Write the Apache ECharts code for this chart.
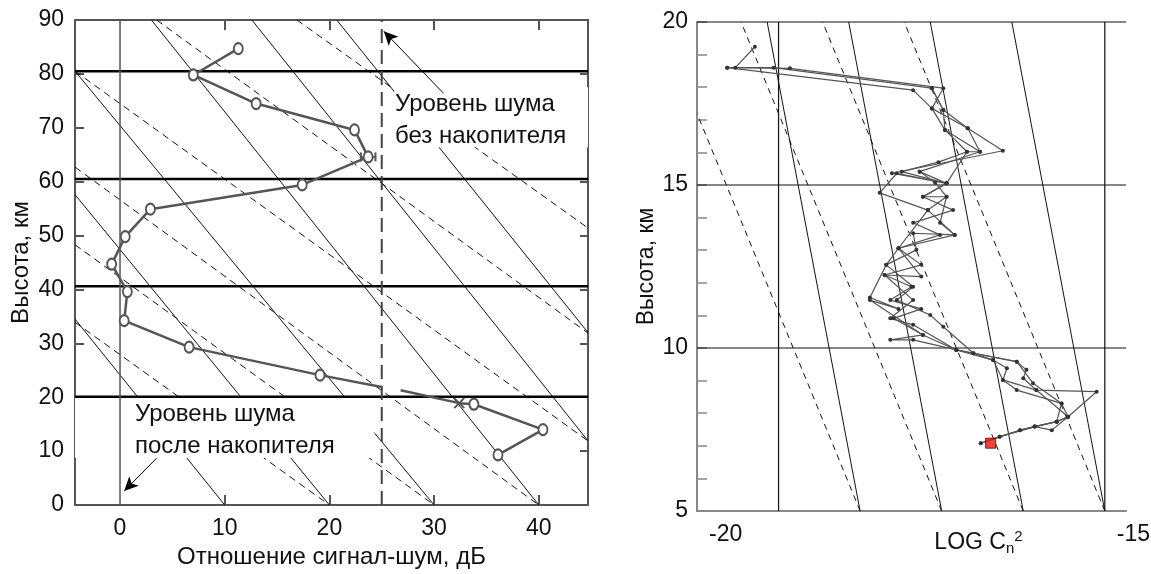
<!DOCTYPE html>
<html>
<head>
<meta charset="utf-8">
<script src="https://cdn.jsdelivr.net/npm/echarts@6/dist/echarts.min.js"></script>
<style>
  html, body { margin: 0; padding: 0; background: #fff; }
  #chart { width: 1151px; height: 574px; }
</style>
</head>
<body>
<div id="chart"></div>
<script>
// ---- левый график: отношение сигнал-шум ----
const snrLabels = [0, 10, 20, 30, 40];
const snrTicks = [10, 20, 30, 40];
const hLevels = [20.1, 40.6, 60.5, 80.5];
// профиль сигнал-шум (дБ, км); третье значение: 1 - кружок, 0 - без маркера
const snrUpper = [[11.3, 84.7, 1], [7.0, 79.8, 1], [13.0, 74.5, 1], [22.4, 69.6, 1], [23.7, 64.6, 1], [17.4, 59.4, 1],
  [2.9, 54.9, 1], [0.5, 49.8, 1], [-0.8, 44.7, 1], [0.7, 39.6, 1], [0.4, 34.2, 1], [6.6, 29.3, 1], [19.1, 24.1, 1], [25.0, 21.9, 0]];
const snrLower = [[26.8, 21.3, 0], [32.4, 18.9, 0], [33.8, 18.7, 1], [40.4, 14.0, 1], [36.1, 9.3, 1]];
const snrCross = [[32.4, 18.9]];
const errBar = [[23.0, 64.6], [24.4, 64.6]];
// наклонные линии: x1, y1, x2, y2
const solidSegs = [[-4.3, 34.5, 10, 0], [-4.3, 57.6, 20, 0], [-4.3, 80.5, 30, 0], [3.0, 90, 40, 0],
  [12.6, 90, 44.7, 11.9], [20.7, 90, 44.7, 32.0]];
const dashedSegs = [[-4.3, 33.9, 20, 0], [-4.3, 48.3, 30, 0], [-4.3, 62.7, 40, 0], [-4.3, 80.5, 44.7, 11.9],
  [3.5, 90, 44.7, 31.9], [16.9, 90, 44.7, 51.4]];
const maskBoxes = [[-4.3, 20.1, 24.3, 8.7], [26.2, 77.5, 44.7, 66.4]];
const noiseNoAcc = 25;

// ---- правый график: LOG Cn2 ----
const cnTrace1 = [[-16.52, 7.08], [-16.04, 7.48], [-15.59, 7.74], [-15.45, 7.89], [-15.53, 8.3], [-15.88, 8.92],
  [-16.08, 9.58], [-16.61, 9.84], [-16.82, 9.94], [-17.23, 10.4], [-17.59, 10.91], [-17.25, 11.2], [-17.63, 11.47],
  [-17.37, 11.88], [-17.70, 12.24], [-17.25, 12.55], [-17.53, 13.06], [-17.02, 13.47], [-17.35, 13.84], [-16.86, 14.23],
  [-17.23, 14.64], [-16.94, 15.05], [-17.49, 15.41], [-17.04, 15.7], [-16.69, 16.02], [-16.96, 16.69], [-17.12, 17.35],
  [-16.98, 17.97], [-18.86, 18.58], [-19.53, 18.6], [-19.29, 19.24]];
const cnTrace2 = [[-16.52, 7.08], [-16.29, 7.28], [-15.86, 7.59], [-15.65, 7.48], [-15.45, 7.89], [-15.1, 8.66],
  [-15.84, 8.71], [-16.25, 9.02], [-16.2, 9.38], [-16.37, 9.63], [-16.61, 9.84], [-16.98, 10.65], [-17.14, 11.01],
  [-17.55, 11.47], [-17.35, 11.88], [-17.68, 12.55], [-17.31, 13.01], [-17.35, 13.52], [-16.84, 13.47], [-17.17, 14.23],
  [-16.94, 14.64], [-17.08, 15.07], [-17.27, 15.41], [-16.53, 16.02], [-16.68, 16.74], [-16.98, 17.3], [-17.12, 17.97],
  [-19.06, 18.6], [-19.63, 18.6]];
const cnTrace3 = [[-16.29, 7.28], [-15.86, 7.59], [-15.59, 7.74], [-15.45, 7.89], [-15.84, 8.71], [-16.0, 9.07],
  [-15.96, 9.33], [-16.08, 9.58], [-16.82, 9.94], [-17.35, 10.25], [-17.63, 10.25], [-17.23, 10.4], [-17.88, 11.47],
  [-17.53, 11.2], [-17.88, 11.55], [-17.68, 12.55], [-17.53, 13.06], [-17.17, 14.23], [-17.76, 14.76], [-17.55, 15.36],
  [-16.94, 15.05], [-17.61, 15.36], [-16.25, 16.05], [-16.68, 16.74], [-17.12, 17.35], [-17.35, 17.91], [-19.63, 18.6]];
const cnTrace4 = [[-16.04, 7.48], [-15.86, 7.59], [-15.59, 7.74], [-15.53, 8.3], [-16.08, 8.71], [-16.25, 9.02],
  [-16.37, 9.63], [-16.82, 9.94], [-17.35, 10.71], [-17.63, 10.91], [-17.35, 11.47], [-17.70, 12.24], [-17.25, 12.19],
  [-17.53, 13.06], [-16.84, 13.47], [-17.02, 13.84], [-16.94, 14.64], [-17.23, 14.64], [-16.94, 15.05], [-17.27, 15.41],
  [-16.94, 15.05], [-16.69, 16.02], [-16.53, 16.02], [-16.96, 16.69], [-16.98, 17.3], [-17.12, 17.97]];
const cnMarker = [[-16.4, 7.08]];
const cnLevels = [10, 15, 20];
const cnVertical = [-19, -15];
const cnSolidSegs = [[-18, 5, -19.14, 20], [-17, 5, -18.14, 20], [-16, 5, -17.14, 20], [-15, 5, -16.14, 20]];
const cnDashedSegs = [[-18, 5, -20.46, 20], [-17, 5, -19.46, 20], [-16, 5, -18.46, 20], [-15, 5, -17.46, 20]];

const FONT = 'Liberation Sans, Arial, sans-serif';

const chart = echarts.init(document.getElementById('chart'));

function segRender(style) {
  return function (params, api) {
    const p1 = api.coord([api.value(0), api.value(1)]);
    const p2 = api.coord([api.value(2), api.value(3)]);
    return {
      type: 'line',
      shape: { x1: p1[0], y1: p1[1], x2: p2[0], y2: p2[1] },
      style: Object.assign({ fill: null }, style)
    };
  };
}

function boxRender(params, api) {
  const p1 = api.coord([api.value(0), api.value(1)]);
  const p2 = api.coord([api.value(2), api.value(3)]);
  return {
    type: 'rect',
    shape: { x: p1[0], y: p1[1], width: p2[0] - p1[0], height: p2[1] - p1[1] },
    style: { fill: '#fff' }
  };
}

// маленький косой крестик на линии профиля
function crossRender(params, api) {
  const p = api.coord([api.value(0), api.value(1)]);
  const s = 5;
  return {
    type: 'group',
    children: [
      { type: 'line', shape: { x1: p[0] - s, y1: p[1] - s, x2: p[0] + s, y2: p[1] + s }, style: { stroke: '#555', lineWidth: 2 } },
      { type: 'line', shape: { x1: p[0] - s, y1: p[1] + s, x2: p[0] + s, y2: p[1] - s }, style: { stroke: '#555', lineWidth: 2 } }
    ]
  };
}

function snrPoints(arr) {
  return arr.map(p => ({ value: [p[0], p[1]], symbol: p[2] ? 'emptyCircle' : 'none' }));
}

const leftMin = -4.3, leftMax = 44.7;
const hLineSegs = hLevels.map(v => [leftMin, v, leftMax, v]);
const cnHSegs = cnLevels.map(v => [-20, v, -14.74, v]);
const cnVSegs = cnVertical.map(v => [v, 5, v, 20]);

const snrLine = {
  type: 'line', xAxisIndex: 0, yAxisIndex: 0, z: 5,
  lineStyle: { color: '#555', width: 2.5 },
  symbol: 'emptyCircle', symbolSize: [9, 11],
  itemStyle: { color: '#555', borderColor: '#555', borderWidth: 2 }
};

const option = {
  animation: false,
  grid: [
    { left: 75, top: 20, width: 513, height: 485, outerBoundsMode: 'none', containLabel: false },
    { left: 697, top: 22, width: 429, height: 489, outerBoundsMode: 'none', containLabel: false }
  ],
  xAxis: [
    {
      gridIndex: 0, type: 'value', min: leftMin, max: leftMax,
      name: 'Отношение сигнал-шум, дБ', nameLocation: 'middle', nameGap: 39,
      nameTextStyle: { fontSize: 24, fontFamily: FONT, color: '#111' },
      axisLine: { onZero: false, lineStyle: { color: '#555', width: 2 } },
      axisTick: { inside: true, length: 10, customValues: snrTicks, lineStyle: { color: '#555', width: 2 } },
      axisLabel: { customValues: snrLabels, fontSize: 23, fontFamily: FONT, color: '#111', margin: 12 },
      splitLine: { show: false }
    },
    {
      gridIndex: 0, type: 'value', min: leftMin, max: leftMax, position: 'top',
      axisLine: { onZero: false, lineStyle: { color: '#555', width: 2 } },
      axisTick: { inside: true, length: 10, customValues: snrTicks, lineStyle: { color: '#555', width: 2 } },
      axisLabel: { show: false },
      splitLine: { show: false }
    },
    {
      gridIndex: 1, type: 'value', min: -20, max: -14.74,
      name: '{a|LOG C}{s|n}{p|2}', nameLocation: 'middle', nameGap: 18, nameMoveOverlap: false,
      nameTextStyle: {
        padding: [0, 0, 0, 134],
        rich: {
          a: { fontSize: 23, fontFamily: FONT, color: '#111' },
          s: { fontSize: 15, fontFamily: FONT, color: '#111', padding: [12, 0, 0, 0] },
          p: { fontSize: 15, fontFamily: FONT, color: '#111', padding: [0, 0, 12, 0] }
        }
      },
      axisLine: { onZero: false, lineStyle: { color: '#888', width: 2 } },
      axisTick: { show: false },
      axisLabel: { customValues: [-20, -15], align: 'left', padding: [0, 0, 0, 12], fontSize: 23, fontFamily: FONT, color: '#111', margin: 12 },
      splitLine: { show: false }
    }
  ],
  yAxis: [
    {
      gridIndex: 0, type: 'value', min: 0, max: 90, interval: 10,
      name: 'Высота, км', nameLocation: 'middle', nameGap: 42,
      nameTextStyle: { fontSize: 24, fontFamily: FONT, color: '#111' },
      axisLine: { onZero: false, lineStyle: { color: '#555', width: 2 } },
      axisTick: { inside: true, length: 9, lineStyle: { color: '#555', width: 2 } },
      axisLabel: { fontSize: 23, fontFamily: FONT, color: '#111', margin: 11 },
      splitLine: { show: false }
    },
    {
      gridIndex: 0, type: 'value', min: 0, max: 90, interval: 10, position: 'right',
      axisLine: { onZero: false, lineStyle: { color: '#555', width: 2 } },
      axisTick: { inside: true, length: 8, lineStyle: { color: '#555', width: 2 } },
      axisLabel: { show: false },
      splitLine: { show: false }
    },
    {
      gridIndex: 1, type: 'value', min: 5, max: 20, interval: 1,
      name: 'Высота, км', nameLocation: 'middle', nameGap: 32,
      nameTextStyle: { fontSize: 23, fontFamily: FONT, color: '#111' },
      axisLine: { onZero: false, lineStyle: { color: '#888', width: 2 } },
      axisTick: { inside: true, length: 10, lineStyle: { color: '#888', width: 1.5 } },
      axisLabel: {
        fontSize: 23, fontFamily: FONT, color: '#111', margin: 9,
        formatter: v => (v % 5 === 0 ? String(v) : '')
      },
      splitLine: { show: false }
    }
  ],
  series: [
    // --- левый график ---
    {
      type: 'custom', xAxisIndex: 0, yAxisIndex: 0, clip: true, z: 1, silent: true,
      renderItem: segRender({ stroke: '#111', lineWidth: 1 }), data: solidSegs
    },
    {
      type: 'custom', xAxisIndex: 0, yAxisIndex: 0, clip: true, z: 1, silent: true,
      renderItem: segRender({ stroke: '#111', lineWidth: 1, lineDash: [7, 5] }), data: dashedSegs
    },
    {
      type: 'custom', xAxisIndex: 0, yAxisIndex: 0, clip: true, z: 2, silent: true,
      renderItem: boxRender, data: maskBoxes
    },
    {
      type: 'custom', xAxisIndex: 0, yAxisIndex: 0, clip: true, z: 3, silent: true,
      renderItem: segRender({ stroke: '#000', lineWidth: 2.5 }), data: hLineSegs
    },
    {
      type: 'custom', xAxisIndex: 0, yAxisIndex: 0, clip: true, z: 3, silent: true,
      renderItem: segRender({ stroke: '#555', lineWidth: 1.5 }), data: [[0, 0, 0, 90]]
    },
    {
      type: 'custom', xAxisIndex: 0, yAxisIndex: 0, clip: true, z: 3, silent: true,
      renderItem: segRender({ stroke: '#444', lineWidth: 2, lineDash: [14, 7] }),
      data: [[noiseNoAcc, 0, noiseNoAcc, 90]]
    },
    Object.assign({}, snrLine, {
      data: snrPoints(snrUpper),
      markLine: {
        silent: true, symbol: ['none', 'arrow'], symbolSize: [10, 14], label: { show: false },
        lineStyle: { color: '#000', width: 1, type: 'solid' },
        data: [
          [{ coord: [30.9, 76.4] }, { coord: [25.2, 87.9] }],
          [{ coord: [3.5, 8.7] }, { coord: [0.4, 2.6] }]
        ]
      }
    }),
    Object.assign({}, snrLine, { data: snrPoints(snrLower) }),
    {
      type: 'custom', xAxisIndex: 0, yAxisIndex: 0, z: 6, silent: true,
      renderItem: crossRender, data: snrCross
    },
    {
      type: 'line', xAxisIndex: 0, yAxisIndex: 0, z: 5, data: errBar,
      lineStyle: { color: '#555', width: 2 },
      symbol: 'rect', symbolSize: [2, 9], itemStyle: { color: '#555' }
    },
    // --- правый график ---
    {
      type: 'custom', xAxisIndex: 2, yAxisIndex: 2, clip: true, z: 1, silent: true,
      renderItem: segRender({ stroke: '#111', lineWidth: 1 }), data: cnSolidSegs
    },
    {
      type: 'custom', xAxisIndex: 2, yAxisIndex: 2, clip: true, z: 1, silent: true,
      renderItem: segRender({ stroke: '#111', lineWidth: 1, lineDash: [6, 5] }), data: cnDashedSegs
    },
    {
      type: 'custom', xAxisIndex: 2, yAxisIndex: 2, clip: false, z: 2, silent: true,
      renderItem: segRender({ stroke: '#111', lineWidth: 1.2 }), data: cnHSegs.concat(cnVSegs)
    }
  ].concat([cnTrace1, cnTrace2, cnTrace3, cnTrace4].map(d => ({
    type: 'line', xAxisIndex: 2, yAxisIndex: 2, z: 4, data: d,
    lineStyle: { color: '#555', width: 1.2 },
    symbol: 'circle', symbolSize: 4,
    itemStyle: { color: '#333' }
  }))).concat([{
    type: 'scatter', xAxisIndex: 2, yAxisIndex: 2, z: 6, data: cnMarker,
    symbol: 'rect', symbolSize: 10,
    itemStyle: { color: '#e8140c', borderColor: '#5a0000', borderWidth: 1 }
  }]),
  graphic: [
    {
      type: 'text', left: 395, top: 88, z: 10,
      style: { text: 'Уровень шума\nбез накопителя', font: '24px ' + FONT, lineHeight: 32, fill: '#111' }
    },
    {
      type: 'text', left: 135, top: 398, z: 10,
      style: { text: 'Уровень шума\nпосле накопителя', font: '24px ' + FONT, lineHeight: 32, fill: '#111' }
    }
  ]
};

chart.setOption(option);
</script>
</body>
</html>
